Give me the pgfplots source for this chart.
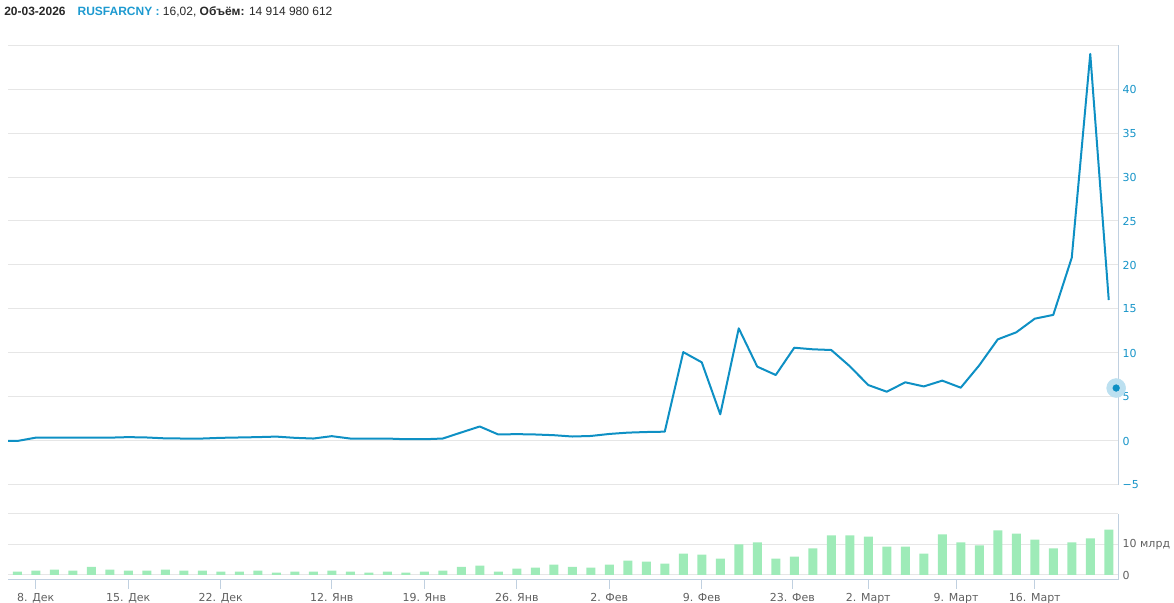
\documentclass[border=0pt]{standalone}
\usepackage{fontspec}
\setmainfont{DejaVu Sans}
\newfontfamily\headfont{Liberation Sans}
\usepackage{pgfplots}
\pgfplotsset{compat=1.18}
\usepackage{pgfplotstable}

\definecolor{lineblue}{RGB}{14,144,196}
\definecolor{tickblue}{RGB}{22,148,200}
\definecolor{headblue}{RGB}{30,154,208}
\definecolor{volgreen}{RGB}{158,235,184}
\definecolor{gridgray}{RGB}{230,230,230}
\definecolor{axisblue}{RGB}{192,208,224}
\definecolor{labelgray}{RGB}{96,96,96}
\definecolor{textdark}{RGB}{40,40,40}
\definecolor{halo}{RGB}{188,224,240}

% close price, one row per trading day (index 0 = first visible day)
\pgfplotstableread{
idx close
-1 0.00
0 0.00
1 0.38
2 0.38
3 0.38
4 0.38
5 0.38
6 0.44
7 0.40
8 0.30
9 0.28
10 0.28
11 0.36
12 0.40
13 0.44
14 0.50
15 0.36
16 0.28
17 0.55
18 0.28
19 0.28
20 0.28
21 0.20
22 0.20
23 0.28
24 0.97
25 1.65
26 0.74
27 0.78
28 0.74
29 0.66
30 0.51
31 0.57
32 0.80
33 0.95
34 1.02
35 1.06
36 10.10
37 8.94
38 3.03
39 12.80
40 8.45
41 7.50
42 10.60
43 10.42
44 10.34
45 8.50
46 6.36
47 5.60
48 6.67
49 6.20
50 6.86
51 6.06
52 8.60
53 11.55
54 12.35
55 13.90
56 14.33
57 20.83
58 43.98
59 16.02
}\pricetable

% volume, bn
\pgfplotstableread{
idx vol
0 1.1
1 1.4
2 1.8
3 1.4
4 2.7
5 1.8
6 1.4
7 1.4
8 1.8
9 1.4
10 1.4
11 1.1
12 1.1
13 1.4
14 0.8
15 1.1
16 1.1
17 1.4
18 1.1
19 0.8
20 1.1
21 0.8
22 1.1
23 1.4
24 2.7
25 3.1
26 1.1
27 2.1
28 2.4
29 3.4
30 2.7
31 2.4
32 3.4
33 4.7
34 4.4
35 3.7
36 7.0
37 6.7
38 5.4
39 10.0
40 10.7
41 5.4
42 6.0
43 8.7
44 13.0
45 13.0
46 12.6
47 9.3
48 9.3
49 7.0
50 13.3
51 10.7
52 9.7
53 14.6
54 13.6
55 11.6
56 8.7
57 10.7
58 12.0
59 14.91
}\voltable

\begin{document}
\begin{tikzpicture}
\path[use as bounding box] (0,0) rectangle (880.5pt,452.25pt);

\node[anchor=base west, inner sep=0pt, text=textdark,
      font=\headfont\fontsize{9pt}{11pt}\selectfont] at (3pt,440.25pt)
  {\textbf{20-03-2026}\hspace{9pt}\textcolor{headblue}{\textbf{RUSFARCNY :}} 16,02, \textbf{Объём:} 14 914 980 612};

% price pane
\begin{axis}[
  at={(6pt,88.5pt)}, anchor=south west,
  scale only axis, width=832.5pt, height=330pt,
  xmin=-0.5, xmax=59.5, ymin=-5, ymax=45,
  axis x line=none,
  axis y line*=right,
  y axis line style={draw=axisblue, line width=0.75pt, -},
  ytick={-5,0,...,45},
  yticklabels={−5,0,5,10,15,20,25,30,35,40,},
  ymajorgrids,
  major grid style={draw=gridgray, line width=0.75pt},
  major tick length=0pt,
  yticklabel style={font=\fontsize{8.25pt}{10pt}\selectfont, text=tickblue, anchor=west},
]
\addplot[lineblue, line width=1.5pt, line join=round] table[x=idx, y=close] {\pricetable};
\addplot[only marks, mark=*, mark size=7.1pt, color=halo,
  mark options={draw=halo, fill=halo}] coordinates {(59.4,6.02)};
\addplot[only marks, mark=*, mark size=2.5pt, color=lineblue,
  mark options={draw=lineblue, fill=lineblue}] coordinates {(59.4,6.02)};
\end{axis}

% volume pane
\begin{axis}[
  at={(6pt,17.25pt)}, anchor=south west,
  scale only axis, width=832.5pt, height=49.5pt,
  xmin=-0.5, xmax=59.5, ymin=-1.64, ymax=20,
  axis x line*=bottom, axis y line*=right,
  axis line style={draw=axisblue, line width=0.75pt, -},
  ytick={0,10,20}, yticklabels={0,10 млрд,},
  ymajorgrids,
  major grid style={draw=gridgray, line width=0.75pt},
  xtick={1,6,11,17,22,27,32,37,41.9,46,50.75,55},
  xticklabels={8. Дек,15. Дек,22. Дек,12. Янв,19. Янв,26. Янв,2. Фев,9. Фев,23. Фев,2. Март,9. Март,16. Март},
  tick align=outside,
  major tick length=6.75pt,
  xtick style={draw=axisblue, line width=0.75pt},
  ytick style={draw=none},
  xticklabel style={font=\fontsize{8.25pt}{10pt}\selectfont, text=labelgray},
  yticklabel style={font=\fontsize{8.25pt}{10pt}\selectfont, text=labelgray, anchor=west, xshift=-6.75pt},
]
\addplot[ybar, bar width=6.75pt, fill=volgreen, draw=none] table[x=idx, y=vol] {\voltable};
\end{axis}
\end{tikzpicture}
\end{document}
